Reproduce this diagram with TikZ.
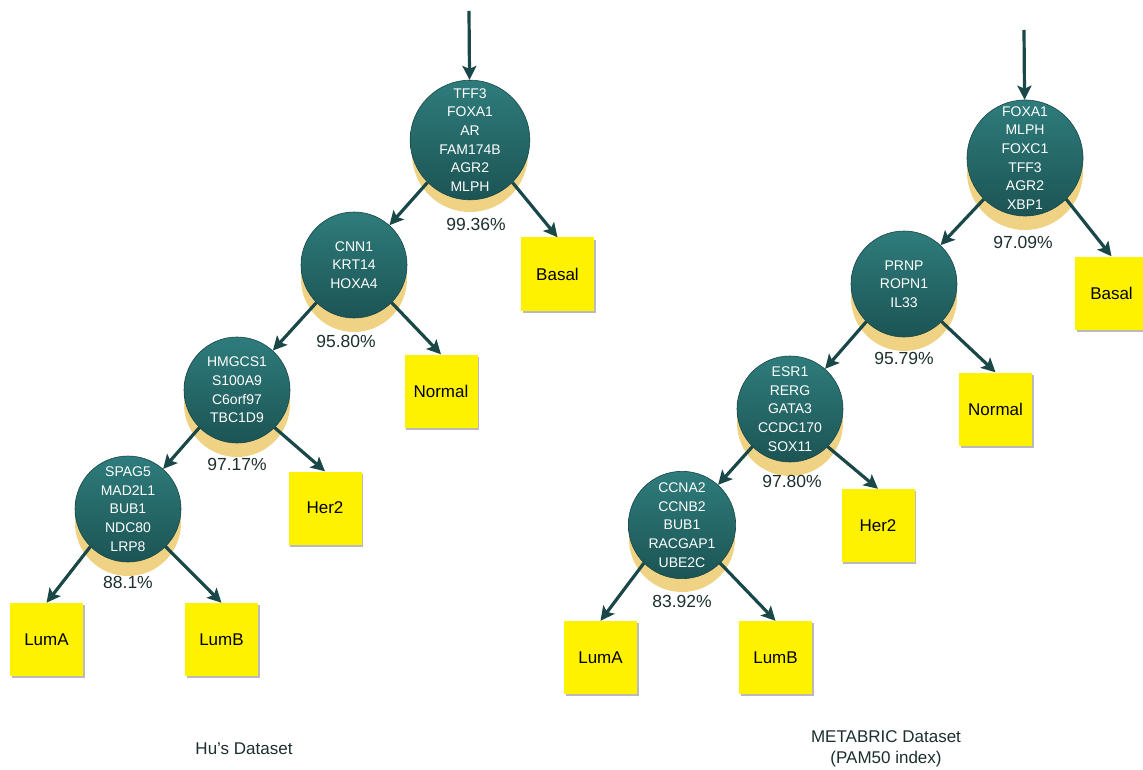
\documentclass[tikz,border=0pt]{standalone}
\usepackage{fontspec}
\setmainfont{Liberation Sans}
\usetikzlibrary{arrows.meta,shadows}
\definecolor{tealA}{HTML}{2F7C7C}
\definecolor{tealB}{HTML}{1C5454}
\definecolor{goldc}{HTML}{EFD283}
\definecolor{arrc}{HTML}{1A4848}
\definecolor{txt}{HTML}{1C2E2E}
\begin{document}
\begin{tikzpicture}[x=1pt,y=-1pt,
 gene/.style={circle, inner sep=0pt, top color=tealA, bottom color=tealB, draw=tealB!85!black, line width=0.6pt, text=white, font=\fontsize{14}{18.6}\selectfont, align=center},
 big/.style={gene, minimum size=116pt},
 small/.style={gene, minimum size=106pt},
 leaf/.style={rectangle, fill=yellow, minimum width=73pt, minimum height=73pt, inner sep=0pt, font=\fontsize{17}{20}\selectfont, drop shadow={shadow xshift=1.5pt, shadow yshift=-2pt, fill=black!45, opacity=0.6}},
 arr/.style={draw=arrc, line width=3.2pt, -{Stealth[length=14pt,width=14pt,inset=3pt]}},
 pct/.style={text=txt, font=\fontsize{17.5}{20}\selectfont},
 dsetcap/.style={text=txt, font=\fontsize{17}{21}\selectfont, align=center},
 goldfill/.style={fill=goldc}]
\useasboundingbox (0,0) rectangle (1143,770);

% ---- gold crescents
\fill[goldfill] (470,154) circle[radius=58pt];
\fill[goldfill] (354,279) circle[radius=53pt];
\fill[goldfill] (237,404) circle[radius=53pt];
\fill[goldfill] (128,523) circle[radius=53pt];
\fill[goldfill] (1025,172) circle[radius=58pt];
\fill[goldfill] (904,298) circle[radius=53pt];
\fill[goldfill] (790,423) circle[radius=53pt];
\fill[goldfill] (682,539) circle[radius=53pt];

% ---- Hu's tree
\node[big] (h1) at (470,140) {TFF3\\FOXA1\\AR\\FAM174B\\AGR2\\MLPH};
\node[small] (h2) at (354,265) {CNN1\\KRT14\\HOXA4};
\node[small] (h3) at (237,390) {HMGCS1\\S100A9\\C6orf97\\TBC1D9};
\node[small] (h4) at (128,509) {SPAG5\\MAD2L1\\BUB1\\NDC80\\LRP8};

\node[leaf] (hbasal) at (557.5,274) {Basal};
\node[leaf] (hnormal) at (441,391) {Normal};
\node[leaf] (hher2) at (325,508) {Her2};
\node[leaf] (hluma) at (46.5,639.5) {LumA};
\node[leaf] (hlumb) at (221.5,639.5) {LumB};

\node[pct] (hp1) at (476,224) {99.36\%};
\node[pct] (hp2) at (346,341) {95.80\%};
\node[pct] (hp3) at (237,464) {97.17\%};
\node[pct] (hp4) at (128,582) {88.1\%};

\coordinate (ht) at (469,11);
\draw[arr] (ht) -- (h1);
\draw[arr] (h1.-135) -- (h2);
\draw[arr] (h1.-45) -- (hbasal.north);
\draw[arr] (h2.-135) -- (h3);
\draw[arr] (h2.-45) -- (hnormal.north);
\draw[arr] (h3.-135) -- (h4);
\draw[arr] (h3.-45) -- (hher2.north);
\draw[arr] (h4.-135) -- (hluma.north);
\draw[arr] (h4.-45) -- (hlumb.north);

\node[dsetcap] (hcap) at (244,749) {Hu’s Dataset};

% ---- METABRIC tree
\node[big] (m1) at (1025,158) {FOXA1\\MLPH\\FOXC1\\TFF3\\AGR2\\XBP1};
\node[small] (m2) at (904,284) {PRNP\\ROPN1\\IL33};
\node[small] (m3) at (790,409) {ESR1\\RERG\\GATA3\\CCDC170\\SOX11};
\node[small] (m4) at (682,525) {CCNA2\\CCNB2\\BUB1\\RACGAP1\\UBE2C};

\node[leaf] (mbasal) at (1111.5,293) {Basal};
\node[leaf] (mnormal) at (995.5,409) {Normal};
\node[leaf] (mher2) at (878,525.5) {Her2};
\node[leaf] (mluma) at (600.5,657.5) {LumA};
\node[leaf] (mlumb) at (775.5,657.5) {LumB};

\node[pct] (mp1) at (1023,242) {97.09\%};
\node[pct] (mp2) at (904,358) {95.79\%};
\node[pct] (mp3) at (792,481) {97.80\%};
\node[pct] (mp4) at (682,601) {83.92\%};

\coordinate (mt) at (1024,30);
\draw[arr] (mt) -- (m1);
\draw[arr] (m1.-135) -- (m2);
\draw[arr] (m1.-45) -- (mbasal.north);
\draw[arr] (m2.-135) -- (m3);
\draw[arr] (m2.-45) -- (mnormal.north);
\draw[arr] (m3.-135) -- (m4);
\draw[arr] (m3.-45) -- (mher2.north);
\draw[arr] (m4.-135) -- (mluma.north);
\draw[arr] (m4.-45) -- (mlumb.north);

\node[dsetcap] (mcap) at (886,749) {METABRIC Dataset\\(PAM50 index)};
\end{tikzpicture}
\end{document}
